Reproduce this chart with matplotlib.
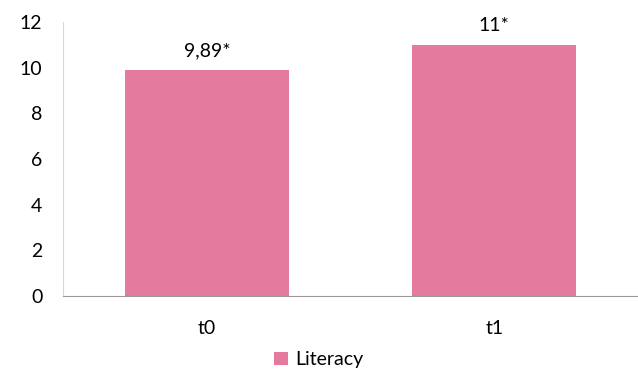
import matplotlib.pyplot as plt
import numpy as np

categories = ["t0", "t1"]
literacy = [9.89, 11]
bar_labels = ["9,89*", "11*"]
y_ticks = [0, 2, 4, 6, 8, 10, 12]

plt.rcParams['font.family'] = ['Lato', 'DejaVu Sans']

bar_color = '#E47A9E'

fig = plt.figure(figsize=(6.38, 3.71), dpi=100)
ax = fig.add_axes([0.099, 0.202, 0.901, 0.739])

x = np.arange(len(categories))
bars = ax.bar(x, literacy, width=0.57, color=bar_color, label="Literacy")

for bar, txt in zip(bars, bar_labels):
    ax.text(bar.get_x() + bar.get_width() / 2, bar.get_height() + 0.45, txt,
            ha='center', va='bottom', fontsize=14, color='black')

ax.set_xlim(-0.5, 1.5)
ax.set_ylim(0, 12)
ax.set_yticks(y_ticks)
ax.set_xticks(x)
ax.set_xticklabels(categories)
ax.tick_params(axis='both', length=0, labelsize=14)
ax.tick_params(axis='y', pad=15)
ax.tick_params(axis='x', pad=17)

ax.spines['top'].set_visible(False)
ax.spines['right'].set_visible(False)
ax.spines['left'].set_color('#d9d9d9')
ax.spines['bottom'].set_color('#999999')

fig.legend(loc='lower center', bbox_to_anchor=(0.5, -0.04), frameon=False,
           fontsize=14, handlelength=0.7, handleheight=0.7, handletextpad=0.4)

fig.savefig("out.png", dpi=100)
